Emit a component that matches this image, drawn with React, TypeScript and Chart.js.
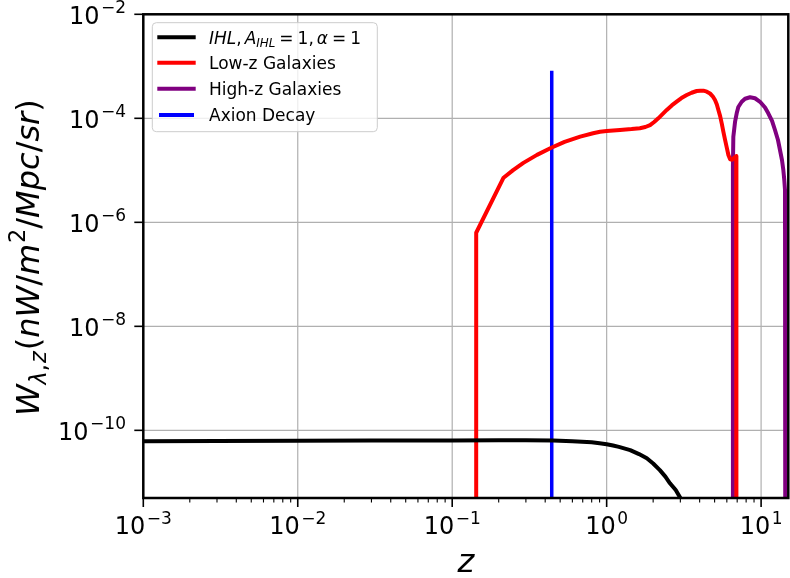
import React, { useEffect, useRef } from "react";
import { Chart, registerables } from "chart.js";
Chart.register(...registerables);

// ---------------- data ----------------
const ihlZ = [0.001, 0.003, 0.01, 0.03, 0.1, 0.2, 0.3, 0.45, 0.6, 0.8, 0.9, 1.0, 1.1, 1.2, 1.42, 1.62, 1.82, 2.0, 2.21, 2.4, 2.57, 2.8, 2.99, 3.3];
const ihlW = [6.2e-11, 6.25e-11, 6.3e-11, 6.35e-11, 6.4e-11, 6.45e-11, 6.45e-11, 6.4e-11, 6.2e-11, 5.9e-11, 5.65e-11, 5.4e-11, 5.1e-11, 4.8e-11, 4.17e-11, 3.5e-11, 2.9e-11, 2.3e-11, 1.72e-11, 1.29e-11, 9.6e-12, 7.1e-12, 5.1e-12, 1e-12];

const lowZ = [0.143, 0.143, 0.215, 0.248, 0.289, 0.354, 0.438, 0.534, 0.674, 0.817, 0.906, 1.0, 1.22, 1.45, 1.64, 1.78, 1.91, 2.03, 2.16, 2.3, 2.45, 2.64, 2.84, 3.05, 3.3, 3.55, 3.83, 4.03, 4.23, 4.45, 4.67, 4.86, 5.03, 5.17, 5.29, 5.43, 5.56, 5.7, 5.84, 6.0, 6.14, 6.3, 6.5, 6.7, 6.9, 6.92];
const lowW = [1e-14, 6.3e-7, 7.2e-6, 1.01e-5, 1.39e-5, 1.98e-5, 2.71e-5, 3.53e-5, 4.45e-5, 5.15e-5, 5.5e-5, 5.7e-5, 5.95e-5, 6.2e-5, 6.45e-5, 6.8e-5, 7.4e-5, 8.5e-5, 1.0e-4, 1.2e-4, 1.45e-4, 1.77e-4, 2.09e-4, 2.45e-4, 2.8e-4, 3.1e-4, 3.35e-4, 3.4e-4, 3.4e-4, 3.25e-4, 3.0e-4, 2.65e-4, 2.25e-4, 1.85e-4, 1.45e-4, 1.1e-4, 8.0e-5, 5.5e-5, 3.9e-5, 2.7e-5, 1.97e-5, 1.63e-5, 1.6e-5, 1.75e-5, 1.88e-5, 1e-14];

const highZ = [6.57, 6.57, 6.61, 6.78, 6.95, 7.12, 7.49, 7.87, 8.48, 9.13, 9.84, 10.6, 11.13, 11.77, 12.3, 12.86, 13.25, 13.65, 13.93, 14.13, 14.28, 14.35];
const highW = [1e-14, 1.2e-5, 4.43e-5, 8.5e-5, 1.25e-4, 1.65e-4, 2.08e-4, 2.38e-4, 2.54e-4, 2.43e-4, 2.08e-4, 1.61e-4, 1.25e-4, 8.9e-5, 5.96e-5, 3.83e-5, 2.46e-5, 1.58e-5, 1.01e-5, 6.5e-6, 4.2e-6, 1e-14];

const axionZ = [0.441, 0.441];
const axionW = [1e-14, 8.2e-4];

const seriesNames = ["IHL", "Low-z Galaxies", "High-z Galaxies", "Axion Decay"];
const seriesColors = ["#000000", "#ff0000", "#800080", "#0000ff"];

const xTickExps = [-3, -2, -1, 0, 1];
const yTickExps = [-2, -4, -6, -8, -10];
const xMin = 1e-3;
const xMax = 15;
const yMin = 5e-12;
const yMax = 1e-2;

// ---------------- helpers ----------------
const FONT = "'DejaVu Sans', 'Noto Sans', sans-serif";
type Seg = { t: string; size: number; italic?: boolean; dy?: number; pre?: number };

const toPts = (xs: number[], ys: number[]) => xs.map((x, i) => ({ x, y: ys[i] }));
const segFont = (s: Seg) => `${s.italic ? "italic " : ""}${s.size}px ${FONT}`;
const minusStr = (e: number) => (e < 0 ? "\u2212" + String(-e) : String(e));

function measureSegs(ctx: CanvasRenderingContext2D, segs: Seg[]) {
  let w = 0;
  for (const s of segs) {
    ctx.font = segFont(s);
    w += (s.pre || 0) + ctx.measureText(s.t).width;
  }
  return w;
}
function drawSegs(ctx: CanvasRenderingContext2D, segs: Seg[], x: number, y: number) {
  let cx = x;
  ctx.textAlign = "left";
  ctx.textBaseline = "alphabetic";
  for (const s of segs) {
    ctx.font = segFont(s);
    cx += s.pre || 0;
    ctx.fillText(s.t, cx, y + (s.dy || 0));
    cx += ctx.measureText(s.t).width;
  }
}
const powSegs = (e: number): Seg[] => [
  { t: "10", size: 24 },
  { t: minusStr(e), size: 17, dy: -10.5, pre: 1.5 },
];

const decorPlugin = {
  id: "decor",
  beforeDatasetsDraw(chart: any) {
    const ctx: CanvasRenderingContext2D = chart.ctx;
    const a = chart.chartArea;
    const xs = chart.scales.x;
    const ys = chart.scales.y;
    ctx.save();
    ctx.strokeStyle = "#b0b0b0";
    ctx.lineWidth = 1.2;
    for (const e of xTickExps) {
      const px = xs.getPixelForValue(Math.pow(10, e));
      ctx.beginPath();
      ctx.moveTo(px, a.top);
      ctx.lineTo(px, a.bottom);
      ctx.stroke();
    }
    for (const e of yTickExps) {
      const py = ys.getPixelForValue(Math.pow(10, e));
      ctx.beginPath();
      ctx.moveTo(a.left, py);
      ctx.lineTo(a.right, py);
      ctx.stroke();
    }
    ctx.restore();
  },
  afterDatasetsDraw(chart: any) {
    const ctx: CanvasRenderingContext2D = chart.ctx;
    const a = chart.chartArea;
    const xs = chart.scales.x;
    const ys = chart.scales.y;
    ctx.save();
    ctx.fillStyle = "#000";
    ctx.strokeStyle = "#000";

    // ticks
    ctx.lineWidth = 1.6;
    for (const e of xTickExps) {
      const px = xs.getPixelForValue(Math.pow(10, e));
      ctx.beginPath();
      ctx.moveTo(px, a.bottom);
      ctx.lineTo(px, a.bottom + 9);
      ctx.stroke();
    }
    ctx.lineWidth = 1.1;
    for (let d = -3; d <= 1; d++) {
      for (let k = 2; k <= 9; k++) {
        const v = k * Math.pow(10, d);
        if (v > xMax) continue;
        const px = xs.getPixelForValue(v);
        ctx.beginPath();
        ctx.moveTo(px, a.bottom);
        ctx.lineTo(px, a.bottom + 4.5);
        ctx.stroke();
      }
    }
    ctx.lineWidth = 1.6;
    for (const e of yTickExps) {
      const py = ys.getPixelForValue(Math.pow(10, e));
      ctx.beginPath();
      ctx.moveTo(a.left - 9, py);
      ctx.lineTo(a.left, py);
      ctx.stroke();
    }

    // frame
    ctx.lineWidth = 2.5;
    ctx.strokeRect(a.left, a.top, a.right - a.left, a.bottom - a.top);

    // tick labels
    for (const e of xTickExps) {
      const px = xs.getPixelForValue(Math.pow(10, e));
      const segs = powSegs(e);
      const w = measureSegs(ctx, segs);
      drawSegs(ctx, segs, px - w / 2, a.bottom + 36);
    }
    for (const e of yTickExps) {
      const py = ys.getPixelForValue(Math.pow(10, e));
      const segs = powSegs(e);
      const w = measureSegs(ctx, segs);
      drawSegs(ctx, segs, 126 - w, py + 9.3);
    }

    // x title
    const xt: Seg[] = [{ t: "z", size: 32, italic: true }];
    const xw = measureSegs(ctx, xt);
    drawSegs(ctx, xt, (a.left + a.right) / 2 - xw / 2, 572);

    // y title
    const yt: Seg[] = [
      { t: "W", size: 32, italic: true },
      { t: "\u03bb", size: 22.4, italic: true, dy: 7 },
      { t: ",", size: 22.4, dy: 7 },
      { t: "z", size: 22.4, italic: true, dy: 7, pre: 1 },
      { t: "(", size: 32, pre: 1 },
      { t: "nW", size: 32, italic: true },
      { t: "/", size: 32 },
      { t: "m", size: 32, italic: true },
      { t: "2", size: 22.4, dy: -14, pre: 1 },
      { t: "/", size: 32 },
      { t: "Mpc", size: 32, italic: true },
      { t: "/", size: 32 },
      { t: "sr", size: 32, italic: true },
      { t: ")", size: 32 },
    ];
    const yw = measureSegs(ctx, yt);
    ctx.save();
    ctx.translate(38.5, (a.top + a.bottom) / 2 + 1.5);
    ctx.rotate(-Math.PI / 2);
    drawSegs(ctx, yt, -yw / 2, 0);
    ctx.restore();

    // legend
    const bx = 152.3, by = 22.7, bw = 225, bh = 109, r = 4;
    ctx.beginPath();
    ctx.moveTo(bx + r, by);
    ctx.lineTo(bx + bw - r, by);
    ctx.quadraticCurveTo(bx + bw, by, bx + bw, by + r);
    ctx.lineTo(bx + bw, by + bh - r);
    ctx.quadraticCurveTo(bx + bw, by + bh, bx + bw - r, by + bh);
    ctx.lineTo(bx + r, by + bh);
    ctx.quadraticCurveTo(bx, by + bh, bx, by + bh - r);
    ctx.lineTo(bx, by + r);
    ctx.quadraticCurveTo(bx, by, bx + r, by);
    ctx.closePath();
    ctx.fillStyle = "rgba(255,255,255,0.8)";
    ctx.fill();
    ctx.strokeStyle = "#cccccc";
    ctx.lineWidth = 1;
    ctx.stroke();

    const rows = [37.3, 62.7, 88.7, 115];
    const labels: Seg[][] = [
      [
        { t: "IHL", size: 17, italic: true },
        { t: ",", size: 17 },
        { t: "A", size: 17, italic: true, pre: 3 },
        { t: "IHL", size: 11.9, italic: true, dy: 3.5 },
        { t: "=", size: 17, pre: 4 },
        { t: "1", size: 17, pre: 4 },
        { t: ",", size: 17 },
        { t: "\u03b1", size: 17, italic: true, pre: 3 },
        { t: "=", size: 17, pre: 4 },
        { t: "1", size: 17, pre: 4 },
      ],
      [{ t: seriesNames[1], size: 17 }],
      [{ t: seriesNames[2], size: 17 }],
      [{ t: seriesNames[3], size: 17 }],
    ];
    rows.forEach((ry, i) => {
      ctx.strokeStyle = seriesColors[i];
      ctx.lineWidth = 4;
      ctx.beginPath();
      if (i === 3) {
        ctx.moveTo(159, ry);
        ctx.lineTo(194, ry);
      } else {
        ctx.moveTo(157.3, ry);
        ctx.lineTo(195.7, ry);
      }
      ctx.stroke();
      ctx.fillStyle = "#000";
      drawSegs(ctx, labels[i], 209, ry + 6.2);
    });

    ctx.restore();
  },
};

export default function App() {
  const ref = useRef<HTMLCanvasElement | null>(null);
  useEffect(() => {
    if (!ref.current) return;
    const ds = (data: { x: number; y: number }[], color: string, width: number, label: string) => ({
      label,
      data,
      borderColor: color,
      backgroundColor: color,
      borderWidth: width,
      pointRadius: 0,
      pointHoverRadius: 0,
      tension: 0,
      fill: false,
      borderJoinStyle: "round" as const,
      borderCapStyle: "butt" as const,
    });
    const chart = new Chart(ref.current, {
      type: "line",
      data: {
        datasets: [
          ds(toPts(ihlZ, ihlW), seriesColors[0], 4, seriesNames[0]),
          ds(toPts(lowZ, lowW), seriesColors[1], 4, seriesNames[1]),
          ds(toPts(highZ, highW), seriesColors[2], 4, seriesNames[2]),
          ds(toPts(axionZ, axionW), seriesColors[3], 3.5, seriesNames[3]),
        ],
      },
      options: {
        responsive: false,
        animation: false,
        devicePixelRatio: 1,
        layout: { padding: { left: 143.3, right: 1.7, top: 14.3, bottom: 80 } },
        plugins: { legend: { display: false }, tooltip: { enabled: false } },
        events: [],
        scales: {
          x: { type: "logarithmic", min: xMin, max: xMax, display: false },
          y: { type: "logarithmic", min: yMin, max: yMax, display: false },
        },
      },
      plugins: [decorPlugin],
    });
    return () => chart.destroy();
  }, []);
  return (
    <div style={{ position: "absolute", left: 0, top: 0, width: 790, height: 578, background: "#fff" }}>
      <canvas ref={ref} width={790} height={578} style={{ display: "block" }} />
    </div>
  );
}
